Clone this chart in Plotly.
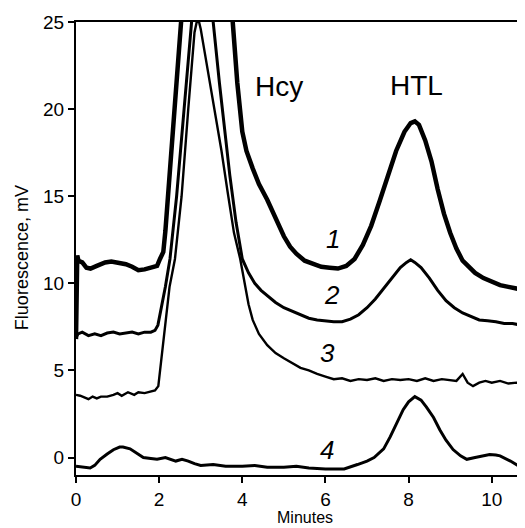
import plotly.graph_objects as go

# Trace 1 (thick)
t1_x = [0.0, 0.03, 0.06, 0.15, 0.25, 0.35, 0.5, 0.6, 0.7, 0.85, 0.95, 1.05, 1.2, 1.35, 1.5, 1.65, 1.8, 1.95, 2.02,
        2.1, 2.15, 2.2, 2.3, 2.4, 2.45, 2.55, 2.7, 3.0, 3.3, 3.55, 3.7, 3.77, 3.88, 4.0, 4.1, 4.25, 4.4, 4.6, 4.8,
        5.0, 5.15, 5.3, 5.5, 5.7, 5.9, 6.1, 6.3, 6.5, 6.7, 6.9, 7.1, 7.3, 7.5, 7.7, 7.9, 8.05, 8.15, 8.25, 8.4,
        8.55, 8.7, 8.85, 9.0, 9.15, 9.3, 9.45, 9.6, 9.8, 10.0, 10.2, 10.4, 10.6, 10.8]
t1_y = [6.8, 11.6, 11.3, 11.2, 10.9, 10.85, 11.0, 11.1, 11.2, 11.25, 11.2, 11.2, 11.1, 10.95, 10.75, 10.8, 10.9, 11.0, 11.4,
        11.8, 13.0, 15.0, 19.0, 23.0, 25.0, 29.0, 35.0, 40.0, 38.0, 30.0, 26.5, 25.0, 21.5, 18.7, 17.6, 16.6, 15.7, 14.8, 13.7,
        12.7, 12.1, 11.7, 11.3, 11.1, 10.95, 10.9, 10.85, 11.0, 11.4, 12.2, 13.3, 14.7, 16.2, 17.6, 18.7, 19.2, 19.3, 19.1, 18.2,
        17.0, 15.4, 14.0, 12.9, 12.0, 11.3, 10.95, 10.6, 10.3, 10.1, 9.9, 9.8, 9.7, 9.6]

# Trace 2
t2_x = [0.0, 0.05, 0.15, 0.3, 0.45, 0.6, 0.75, 0.9, 1.05, 1.2, 1.35, 1.5, 1.65, 1.8, 1.9, 1.97, 2.05, 2.15, 2.26,
        2.42, 2.6, 2.78, 2.9, 3.05, 3.2, 3.3, 3.45, 3.58, 3.7, 3.85, 4.0, 4.15, 4.3, 4.45, 4.6, 4.8, 5.0, 5.2, 5.4,
        5.6, 5.8, 6.0, 6.2, 6.4, 6.6, 6.8, 7.0, 7.2, 7.4, 7.6, 7.8, 7.95, 8.05, 8.15, 8.3, 8.5, 8.7, 8.9, 9.1, 9.3,
        9.5, 9.7, 9.9, 10.1, 10.3, 10.5, 10.7, 10.8]
t2_y = [6.9, 7.1, 7.2, 7.0, 7.1, 7.0, 7.15, 7.2, 7.1, 7.15, 7.2, 7.1, 7.2, 7.2, 7.3, 7.6, 8.5, 9.8, 11.4,
        15.0, 20.0, 25.0, 27.0, 27.8, 26.2, 25.0, 21.5, 18.7, 16.2, 13.5, 11.4, 10.6, 10.0, 9.6, 9.3, 8.9, 8.6, 8.4, 8.2,
        8.0, 7.9, 7.85, 7.8, 7.8, 7.95, 8.2, 8.6, 9.1, 9.7, 10.3, 10.9, 11.2, 11.35, 11.2, 10.9, 10.3, 9.6, 9.0, 8.6, 8.3,
        8.1, 7.9, 7.85, 7.8, 7.7, 7.7, 7.6, 7.55]

# Trace 3
t3_x = [0.0, 0.1, 0.2, 0.3, 0.4, 0.5, 0.6, 0.75, 0.9, 1.0, 1.1, 1.25, 1.4, 1.5, 1.65, 1.8, 1.9, 1.98, 2.05, 2.15,
        2.25, 2.38, 2.54, 2.7, 2.85, 2.93, 3.0, 3.1, 3.2, 3.35, 3.5, 3.65, 3.8, 3.95, 4.05, 4.15, 4.25, 4.4, 4.6, 4.8,
        5.0, 5.2, 5.4, 5.6, 5.8, 6.0, 6.2, 6.4, 6.6, 6.8, 7.0, 7.2, 7.4, 7.6, 7.8, 8.0, 8.2, 8.4, 8.6, 8.8, 9.0,
        9.15, 9.3, 9.42, 9.55, 9.7, 9.85, 10.0, 10.2, 10.4, 10.6, 10.8]
t3_y = [3.6, 3.55, 3.45, 3.35, 3.5, 3.4, 3.5, 3.5, 3.6, 3.7, 3.55, 3.75, 3.6, 3.75, 3.7, 3.8, 3.85, 4.1, 5.5, 7.8,
        9.8, 11.4, 15.0, 20.0, 24.4, 25.3, 24.6, 23.2, 21.8, 19.6, 17.6, 15.2, 12.9, 11.4, 10.0, 8.8, 7.9, 7.1, 6.45, 6.0,
        5.7, 5.4, 5.15, 5.0, 4.8, 4.65, 4.5, 4.55, 4.4, 4.5, 4.45, 4.55, 4.4, 4.5, 4.45, 4.5, 4.4, 4.55, 4.4, 4.5, 4.45,
        4.4, 4.8, 4.3, 4.1, 4.3, 4.4, 4.3, 4.4, 4.25, 4.3, 4.2]

# Trace 4
t4_x = [0.0, 0.15, 0.34, 0.45, 0.58, 0.75, 0.9, 1.05, 1.13, 1.3, 1.45, 1.62, 1.8, 1.95, 2.15, 2.4, 2.55, 2.7, 2.85,
        3.0, 3.3, 3.6, 4.0, 4.3, 4.6, 5.0, 5.3, 5.6, 6.0, 6.45, 6.77, 7.0, 7.17, 7.4, 7.56, 7.72, 7.87, 8.0, 8.15,
        8.3, 8.43, 8.6, 8.75, 8.9, 9.07, 9.25, 9.4, 9.6, 9.8, 9.95, 10.1, 10.2, 10.45, 10.7]
t4_y = [-0.5, -0.55, -0.6, -0.45, -0.1, 0.2, 0.45, 0.6, 0.6, 0.5, 0.25, 0.0, -0.05, -0.1, 0.0, -0.2, -0.1, -0.2, -0.35,
        -0.45, -0.4, -0.5, -0.5, -0.45, -0.55, -0.55, -0.5, -0.6, -0.65, -0.65, -0.4, -0.2, 0.0, 0.5, 1.2, 2.0, 2.75, 3.2, 3.5,
        3.3, 2.9, 2.3, 1.6, 1.0, 0.46, 0.1, -0.1, 0.0, 0.1, 0.17, 0.15, 0.1, -0.2, -0.55]

trace_labels = ["1", "2", "3", "4"]
label_x = [6.18, 6.16, 6.04, 6.04]
label_y = [12.56, 9.35, 6.02, 0.46]

peak_names = ["Hcy", "HTL"]
peak_x = [4.88, 8.2]
peak_y = [21.3, 21.35]

x_ticks = [0, 2, 4, 6, 8, 10]
y_ticks = [0, 5, 10, 15, 20, 25]

FONT = "Liberation Sans, Arial, sans-serif"

fig = go.Figure()
for xs, ys, w in [(t1_x, t1_y, 4.5), (t2_x, t2_y, 3.0), (t3_x, t3_y, 2.4), (t4_x, t4_y, 3.0)]:
    fig.add_trace(go.Scatter(x=xs, y=ys, mode="lines", line=dict(color="black", width=w),
                             showlegend=False, hoverinfo="skip"))

for t, x, y in zip(trace_labels, label_x, label_y):
    fig.add_annotation(x=x, y=y, text="<i>" + t + "</i>", showarrow=False,
                       font=dict(family=FONT, size=26, color="black"))
for t, x, y in zip(peak_names, peak_x, peak_y):
    fig.add_annotation(x=x, y=y, text=t, showarrow=False,
                       font=dict(family=FONT, size=28, color="black"))

fig.add_annotation(xref="paper", yref="paper", x=-0.12, y=0.479, text="Fluorescence, mV",
                   textangle=-90, showarrow=False, xanchor="center", yanchor="middle",
                   font=dict(family=FONT, size=18, color="black"))
fig.add_annotation(xref="paper", yref="paper", x=0.51, y=-0.094, text="Minutes",
                   showarrow=False, xanchor="center", yanchor="middle",
                   font=dict(family=FONT, size=16, color="black"))

# page body has an 8px margin; compensate so the plot lands where the reference has it
fig.update_layout(
    width=517, height=520,
    margin=dict(l=68, r=0, t=14, b=53),
    paper_bgcolor="white", plot_bgcolor="white",
    xaxis=dict(range=[0, 10.8], tickvals=x_ticks, ticks="outside", ticklen=6, tickwidth=2,
               tickcolor="black", showline=True, linecolor="black", linewidth=2, mirror=True,
               showgrid=False, zeroline=False, tickfont=dict(family=FONT, size=19, color="black")),
    yaxis=dict(range=[-1, 25], tickvals=y_ticks, ticks="outside", ticklen=6, tickwidth=2,
               tickcolor="black", showline=True, linecolor="black", linewidth=2,
               showgrid=False, zeroline=False, tickfont=dict(family=FONT, size=19, color="black")),
)

fig.write_html("out.html")
